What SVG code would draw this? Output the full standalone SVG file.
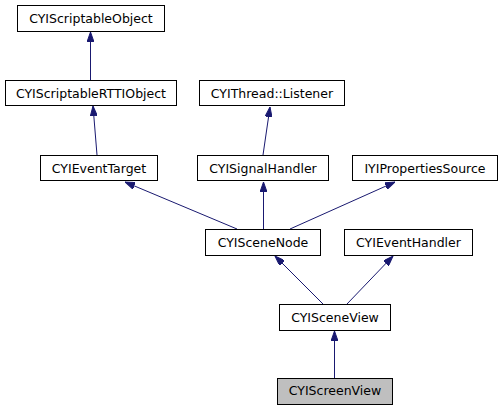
<svg xmlns="http://www.w3.org/2000/svg" width="503" height="411" viewBox="0 0 503 411">
<style>
.n rect{fill:#fff;stroke:#000;stroke-width:1}
.n text{font-family:"DejaVu Sans",sans-serif;font-size:12.5px;text-anchor:middle;fill:#000}
#edges path{fill:none;stroke:#191970;stroke-width:1;marker-end:url(#ah)}
</style>
<defs>
<marker id="ah" viewBox="0 0 10 7" refX="10" refY="3.5" markerUnits="userSpaceOnUse" markerWidth="10" markerHeight="7" orient="auto">
<path d="M0,0 L10,3.5 L0,7 z" fill="#191970" stroke="#191970"/>
</marker>
</defs>
<rect width="503" height="411" fill="#fff"/>
<g id="edges">
<path d="M90.5,80 L90.5,32"/>
<path d="M97,155 L93,106"/>
<path d="M263,155 L270,107"/>
<path d="M237,229 L125,182"/>
<path d="M263.5,229 L263.5,182"/>
<path d="M290,229 L395,182"/>
<path d="M323,304 L275,256"/>
<path d="M347,304 L393,256"/>
<path d="M334.5,378 L334.5,331"/>
</g>
<g id="CYIScriptableObject" class="n"><rect x="17.5" y="5.5" width="147" height="26"/><text x="91" y="23">CYIScriptableObject</text></g>
<g id="CYIScriptableRTTIObject" class="n"><rect x="5.5" y="80.5" width="171" height="25"/><text x="91" y="97.5">CYIScriptableRTTIObject</text></g>
<g id="CYIThreadListener" class="n"><rect x="199.5" y="80.5" width="145" height="25"/><text x="272" y="97.5">CYIThread::Listener</text></g>
<g id="CYIEventTarget" class="n"><rect x="40.5" y="155.5" width="117" height="25"/><text x="99" y="172.5">CYIEventTarget</text></g>
<g id="CYISignalHandler" class="n"><rect x="197.5" y="155.5" width="131" height="25"/><text x="263" y="172.5">CYISignalHandler</text></g>
<g id="IYIPropertiesSource" class="n"><rect x="352.5" y="155.5" width="145" height="25"/><text x="425" y="172.5">IYIPropertiesSource</text></g>
<g id="CYISceneNode" class="n"><rect x="205.5" y="229.5" width="115" height="26"/><text x="263" y="246.5">CYISceneNode</text></g>
<g id="CYIEventHandler" class="n"><rect x="344.5" y="229.5" width="128" height="26"/><text x="408.5" y="246.5">CYIEventHandler</text></g>
<g id="CYISceneView" class="n"><rect x="279.5" y="304.5" width="111" height="26"/><text x="335" y="321.5">CYISceneView</text></g>
<g id="CYIScreenView" class="n"><rect x="277.5" y="378.5" width="115" height="26" style="fill:#bfbfbf"/><text x="335" y="395">CYIScreenView</text></g>
</svg>
